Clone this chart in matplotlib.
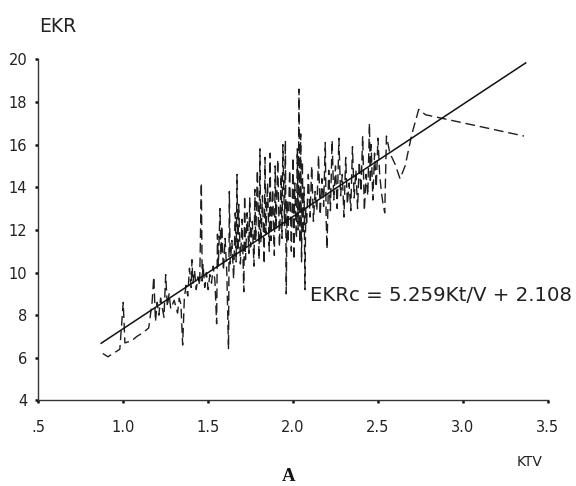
import matplotlib
matplotlib.use("Agg")
from matplotlib import pyplot as plt

ktv = [0.88, 0.91, 0.96, 0.98, 1.00, 1.01, 1.05, 1.08, 1.12, 1.15,
       1.17, 1.18, 1.19, 1.20, 1.21, 1.22, 1.24, 1.25, 1.26, 1.27,
       1.28, 1.30, 1.32, 1.33, 1.34, 1.35,
       1.36, 1.37, 1.38, 1.39, 1.40, 1.405, 1.41, 1.42, 1.43, 1.44,
       1.45, 1.46, 1.465, 1.47, 1.48, 1.49, 1.50, 1.51, 1.52, 1.53,
       1.54, 1.55, 1.555, 1.56, 1.57, 1.575, 1.58, 1.59, 1.60, 1.61,
       1.62, 1.625, 1.63, 1.64, 1.65,
       1.66, 1.665, 1.67, 1.675, 1.68, 1.69, 1.70, 1.71, 1.715, 1.72,
       1.73, 1.74, 1.745, 1.75, 1.76, 1.77, 1.775, 1.78, 1.79, 1.80,
       1.805, 1.81, 1.82, 1.83, 1.835, 1.84, 1.85, 1.86, 1.865, 1.87,
       1.88, 1.89, 1.895, 1.90, 1.91, 1.92, 1.93, 1.935, 1.94, 1.95,
       1.955, 1.96, 1.965, 1.97, 1.98,
       1.99, 2.00, 2.005, 2.01, 2.02, 2.025, 2.03, 2.035, 2.04, 2.045,
       2.05, 2.055, 2.06, 2.065, 2.07, 2.075, 2.08, 2.09, 2.10, 2.11,
       2.12, 2.13, 2.14, 2.15, 2.16, 2.17, 2.18, 2.19, 2.195, 2.20,
       2.21, 2.22, 2.23, 2.24, 2.25, 2.26, 2.27, 2.28, 2.29, 2.30,
       2.31, 2.32, 2.33, 2.34, 2.35, 2.36, 2.37, 2.38, 2.39, 2.40,
       2.41, 2.42, 2.43, 2.44, 2.45, 2.455, 2.46, 2.47, 2.48, 2.49,
       2.50, 2.51, 2.52, 2.53, 2.54, 2.55, 2.57, 2.60, 2.63, 2.66,
       2.70, 2.74, 2.78, 3.36]
ekr = [6.2, 6.05, 6.3, 6.4, 8.6, 6.7, 6.8, 7.0, 7.2, 7.4,
       8.6, 9.8, 7.7, 8.6, 8.0, 8.8, 7.9, 9.9, 8.4, 9.0,
       8.3, 8.7, 8.1, 8.8, 8.5, 6.6,
       8.8, 9.4, 8.9, 10.2, 9.3, 10.6, 9.5, 10.1, 9.2, 9.8,
       9.4, 14.2, 9.6, 10.4, 9.3, 10.0, 9.2, 9.9, 9.5, 10.3,
       9.6, 7.6, 11.8, 10.3, 13.0, 10.8, 12.2, 10.1, 11.6, 10.0,
       6.4, 13.8, 10.4, 11.5, 9.7,
       12.8, 10.5, 14.6, 11.0, 13.2, 10.4, 12.5, 9.1, 13.6, 10.6,
       12.8, 10.9, 13.5, 11.2, 12.4, 10.3, 13.9, 11.5, 14.8, 10.6,
       15.8, 11.4, 13.6, 10.4, 15.4, 11.8, 14.2, 11.0, 15.6, 11.5,
       13.9, 10.8, 15.0, 12.0, 15.3, 11.2, 14.6, 11.6, 16.0, 12.2,
       16.2, 9.0, 13.4, 11.4, 14.8,
       11.0, 15.4, 10.6, 14.2, 11.6, 15.8, 12.0, 18.6, 11.4, 16.5,
       10.5, 15.2, 11.8, 14.0, 9.2, 13.0, 12.2, 14.6, 12.6, 15.0,
       12.4, 13.8, 12.9, 15.5, 12.7, 14.4, 13.1, 16.1, 12.5, 11.1,
       14.8, 12.9, 16.2, 13.4, 15.0, 13.0, 16.3, 13.6, 14.6, 12.6,
       15.4, 13.2, 14.2, 12.9, 15.9, 13.5, 14.8, 13.0, 15.2, 13.8,
       16.4, 12.9, 14.6, 13.6, 17.0, 14.2, 16.0, 13.4, 15.6, 14.0,
       16.3, 14.6, 13.8, 13.2, 12.8, 16.4, 15.6, 15.1, 14.4, 15.0,
       16.5, 17.65, 17.4, 16.4]

# fitted line EKRc = 5.259 Kt/V + 2.108
slope = 5.259
intercept = 2.108
fit_x = [0.87, 3.37]
fit_y = [slope * v + intercept for v in fit_x]

xticks = [0.5, 1.0, 1.5, 2.0, 2.5, 3.0, 3.5]
xticklabels = [".5", "1.0", "1.5", "2.0", "2.5", "3.0", "3.5"]
yticks = [4, 6, 8, 10, 12, 14, 16, 18, 20]

plt.rcParams['font.family'] = ['DejaVu Sans']

fig = plt.figure(figsize=(5.76, 4.86), dpi=100)
ax = fig.add_axes([0.0665, 0.176, 0.8845, 0.702])

ax.plot(ktv, ekr, color='#1e1e1e', lw=1.0, linestyle=(0, (7, 3.5)))
ax.plot(fit_x, fit_y, color='#111111', lw=1.1)

ax.set_xlim(0.5, 3.5)
ax.set_ylim(4, 20)
ax.set_xticks(xticks)
ax.set_xticklabels(xticklabels)
ax.set_yticks(yticks)

for s in ['top', 'right']:
    ax.spines[s].set_visible(False)
for s in ['left', 'bottom']:
    ax.spines[s].set_linewidth(1.0)
    ax.spines[s].set_color('#333333')

ax.tick_params(axis='both', direction='out', length=2, width=1.8,
               color='#111111', labelsize=10.5, labelcolor='#222222')
ax.tick_params(axis='x', pad=12)
ax.tick_params(axis='y', pad=6)

ax.text(2.098, 8.68, "EKRc = 5.259Kt/V + 2.108", fontsize=14.2,
        color='#222222', ha='left', va='baseline')

fig.text(39 / 576, 1 - 32 / 486, "EKR", fontsize=13.5, color='#222222',
         ha='left', va='baseline')
fig.text(530 / 576, 1 - 466 / 486, "KTV", fontsize=10, color='#222222',
         ha='center', va='baseline')
fig.text(289 / 576, 1 - 481 / 486, "A", fontsize=13.5, fontweight='bold',
         family='Liberation Serif', color='#111111', ha='center', va='baseline')

plt.savefig('out.png', dpi=100)
plt.close()
